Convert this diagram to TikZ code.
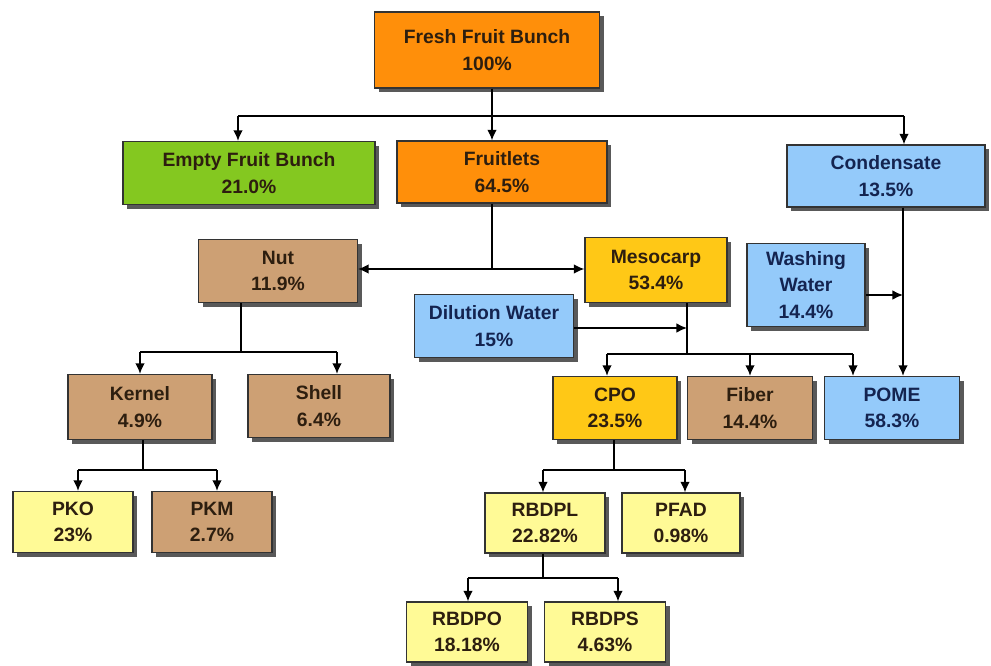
\documentclass[tikz,border=0pt]{standalone}
\usepackage{fontspec}
\setmainfont{Liberation Sans}
\usepackage{tikz}
\usetikzlibrary{shadows,arrows.meta}
\definecolor{fruitorange}{RGB}{255,143,10}
\definecolor{bunchgreen}{RGB}{132,200,32}
\definecolor{waterblue}{RGB}{148,202,250}
\definecolor{nuttan}{RGB}{205,160,116}
\definecolor{oilgold}{RGB}{255,200,22}
\definecolor{palelemon}{RGB}{255,250,150}
\definecolor{inkbrown}{RGB}{45,30,15}
\definecolor{inknavy}{RGB}{20,36,80}

\begin{document}
\begin{tikzpicture}[x=0.02cm,y=-0.02cm,>={Latex[length=6pt,width=5.5pt]},
  box/.style={draw=black!80,line width=0.7pt,align=center,font=\fontsize{11}{15}\selectfont\bfseries,
    text=inkbrown,minimum height=1.26cm,inner sep=2pt,
    drop shadow={shadow xshift=2.3pt,shadow yshift=-2.3pt,fill=black!65,opacity=1}},
  link/.style={line width=1pt}]
\useasboundingbox (0,0) rectangle (991,666);
\node [box,fill=fruitorange,minimum width=4.5cm,minimum height=1.52cm] (ffb) at (487,50) {Fresh Fruit Bunch\\100\%};
\node [box,fill=bunchgreen,minimum width=5.04cm] (efb) at (249,173) {Empty Fruit Bunch\\21.0\%};
\node [box,fill=fruitorange,minimum width=4.2cm,minimum height=1.24cm] (fru) at (502,172) {Fruitlets\\64.5\%};
\node [box,fill=waterblue,text=inknavy,minimum width=3.96cm,minimum height=1.24cm] (cond) at (886,176) {Condensate\\13.5\%};
\node [box,fill=nuttan,minimum width=3.18cm] (nut) at (278,271) {Nut\\11.9\%};
\node [box,fill=oilgold,minimum width=2.84cm,minimum height=1.3cm] (meso) at (656,270) {Mesocarp\\53.4\%};
\node [box,fill=waterblue,text=inknavy,minimum width=2.36cm,minimum height=1.66cm] (wash) at (806,285) {Washing\\Water\\14.4\%};
\node [box,fill=waterblue,text=inknavy,minimum width=3.18cm] (dil) at (494,326) {Dilution Water\\15\%};
\node [box,fill=nuttan,minimum width=2.88cm,minimum height=1.3cm] (kern) at (140,407) {Kernel\\4.9\%};
\node [box,fill=nuttan,minimum width=2.84cm] (shell) at (319,406) {Shell\\6.4\%};
\node [box,fill=oilgold,minimum width=2.48cm] (cpo) at (615,408) {CPO\\23.5\%};
\node [box,fill=nuttan,minimum width=2.5cm] (fib) at (750,408) {Fiber\\14.4\%};
\node [box,fill=waterblue,text=inknavy,minimum width=2.7cm] (pome) at (892,408) {POME\\58.3\%};
\node [box,fill=palelemon,minimum width=2.4cm,minimum height=1.22cm] (pko) at (73,522) {PKO\\23\%};
\node [box,fill=nuttan,minimum width=2.4cm,minimum height=1.22cm] (pkm) at (212,522) {PKM\\2.7\%};
\node [box,fill=palelemon,minimum width=2.4cm,minimum height=1.2cm] (rbdpl) at (545,523) {RBDPL\\22.82\%};
\node [box,fill=palelemon,minimum width=2.36cm,minimum height=1.2cm] (pfad) at (681,523) {PFAD\\0.98\%};
\node [box,fill=palelemon,minimum width=2.42cm,minimum height=1.2cm] (rbdpo) at (467,632) {RBDPO\\18.18\%};
\node [box,fill=palelemon,minimum width=2.42cm,minimum height=1.2cm] (rbdps) at (605,632) {RBDPS\\4.63\%};

\coordinate (t0) at (238,116);
\coordinate (t1) at (492,116);
\coordinate (t2) at (904,116);
\draw [link] (ffb.south -| t1) -- (t1);
\draw [link] (t0) -- (t2);
\draw [link,->] (t0) -- (efb.north -| t0);
\draw [link,->] (t1) -- (fru.north -| t1);
\draw [link,->] (t2) -- (cond.north -| t2);

\coordinate (m1) at (492,269);
\draw [link] (fru.south -| m1) -- (m1);
\draw [link,<->] (nut.east |- m1) -- (meso.west |- m1);

\coordinate (n0) at (140,352);
\coordinate (n1) at (241,352);
\coordinate (n2) at (337,352);
\draw [link] (nut.south -| n1) -- (n1);
\draw [link] (n0) -- (n2);
\draw [link,->] (n0) -- (kern.north -| n0);
\draw [link,->] (n2) -- (shell.north -| n2);

\coordinate (k0) at (78,470);
\coordinate (k1) at (143,470);
\coordinate (k2) at (217,470);
\draw [link] (kern.south -| k1) -- (k1);
\draw [link] (k0) -- (k2);
\draw [link,->] (k0) -- (pko.north -| k0);
\draw [link,->] (k2) -- (pkm.north -| k2);

\coordinate (d1) at (687,328);
\coordinate (s0) at (607,354);
\coordinate (s1) at (687,354);
\coordinate (s2) at (853,354);
\coordinate (s3) at (750,354);
\draw [link] (meso.south -| s1) -- (s1);
\draw [link,->] (dil.east |- d1) -- (d1);
\draw [link] (s0) -- (s2);
\draw [link,->] (s0) -- (cpo.north -| s0);
\draw [link,->] (s3) -- (fib.north -| s3);
\draw [link,->] (s2) -- (pome.north -| s2);

\coordinate (w1) at (903,295);
\draw [link] (cond.south -| w1) -- (w1);
\draw [link,->] (w1) -- (pome.north -| w1);
\draw [link,->] (wash.east |- w1) -- (w1);

\coordinate (c0) at (543,470);
\coordinate (c1) at (614,470);
\coordinate (c2) at (685,470);
\draw [link] (cpo.south -| c1) -- (c1);
\draw [link] (c0) -- (c2);
\draw [link,->] (c0) -- (rbdpl.north -| c0);
\draw [link,->] (c2) -- (pfad.north -| c2);

\coordinate (r0) at (468,578);
\coordinate (r1) at (543,578);
\coordinate (r2) at (618,578);
\draw [link] (rbdpl.south -| r1) -- (r1);
\draw [link] (r0) -- (r2);
\draw [link,->] (r0) -- (rbdpo.north -| r0);
\draw [link,->] (r2) -- (rbdps.north -| r2);
\end{tikzpicture}
\end{document}
